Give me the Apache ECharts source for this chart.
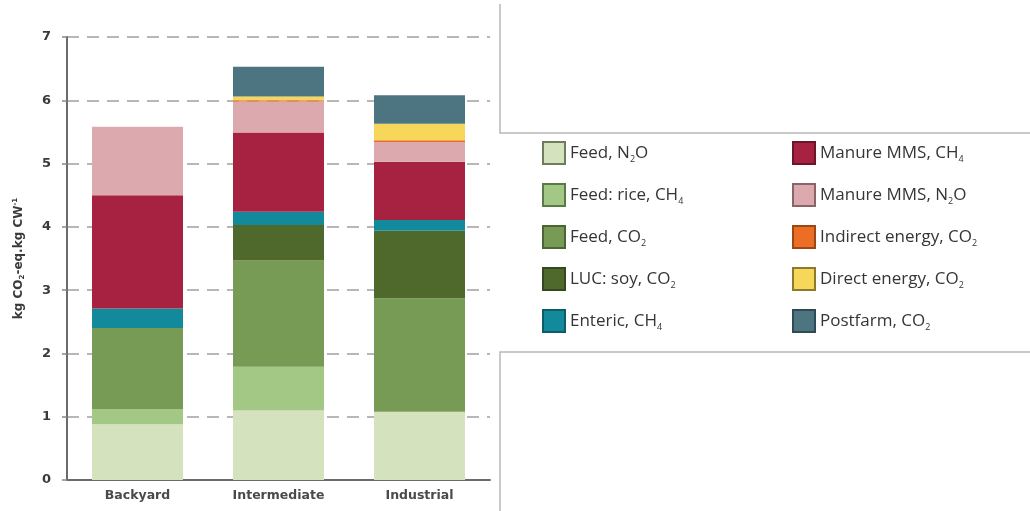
<!DOCTYPE html>
<html>
<head>
<meta charset="utf-8">
<script src="https://cdn.jsdelivr.net/npm/echarts@6/dist/echarts.min.js"></script>
<style>
  html, body { margin: 0; padding: 0; background: #fff; }
  #chart { width: 1030px; height: 511px; }
</style>
</head>
<body>
<div id="chart"></div>
<script>
// Production systems
const categories = ['Backyard', 'Intermediate', 'Industrial'];

// Emissions by source, kg CO2-eq per kg carcass weight
const feedN2O        = [0.88, 1.10, 1.08];
const feedRiceCH4    = [0.24, 0.69, 0.00];
const feedCO2        = [1.28, 1.68, 1.79];
const lucSoyCO2      = [0.00, 0.56, 1.07];
const entericCH4     = [0.31, 0.21, 0.17];
const manureCH4      = [1.79, 1.25, 0.92];
const manureN2O      = [1.08, 0.49, 0.31];
const indirectEnergy = [0.00, 0.02, 0.03];
const directEnergy   = [0.00, 0.06, 0.26];
const postfarmCO2    = [0.00, 0.47, 0.45];

const yTicks = [0, 1, 2, 3, 4, 5, 6, 7];

// Legend labels with rich-text subscripts
const sources = [
  { key: 'Feed, N{s|2}O',               data: feedN2O,        color: '#d4e2bd', border: '#6f7d5c' },
  { key: 'Feed: rice, CH{s|4}',         data: feedRiceCH4,    color: '#a3c784', border: '#5c7a45' },
  { key: 'Feed, CO{s|2}',               data: feedCO2,        color: '#779b54', border: '#4b6634' },
  { key: 'LUC: soy, CO{s|2}',           data: lucSoyCO2,      color: '#4f692d', border: '#36481f' },
  { key: 'Enteric, CH{s|4}',            data: entericCH4,     color: '#138a9b', border: '#0d5d69' },
  { key: 'Manure MMS, CH{s|4}',         data: manureCH4,      color: '#a72141', border: '#6d1529' },
  { key: 'Manure MMS, N{s|2}O',         data: manureN2O,      color: '#dcaaae', border: '#8a6466' },
  { key: 'Indirect energy, CO{s|2}',    data: indirectEnergy, color: '#ec6e24', border: '#9c4716' },
  { key: 'Direct energy, CO{s|2}',      data: directEnergy,   color: '#f6d75a', border: '#8f7a2c' },
  { key: 'Postfarm, CO{s|2}',           data: postfarmCO2,    color: '#4d7481', border: '#2f4a53' }
];

const chart = echarts.init(document.getElementById('chart'), null, { renderer: 'canvas' });

const series = sources.map(s => ({
  name: s.key,
  type: 'bar',
  stack: 'total',
  barWidth: 91,
  data: s.data,
  itemStyle: { color: s.color },
  emphasis: { disabled: true },
  z: 3
}));

const legendFont = 'Open Sans, Liberation Sans, sans-serif';
const legendText = {
  fontFamily: legendFont,
  fontSize: 17,
  lineHeight: 20,
  color: '#353535',
  rich: {
    s: { fontSize: 9, lineHeight: 12, padding: [12, 0, 0, 0], color: '#353535', fontFamily: legendFont }
  }
};

function legendFor(list, left) {
  return {
    orient: 'vertical',
    left: left,
    top: 141,
    padding: 0,
    itemWidth: 22,
    itemHeight: 22,
    itemGap: 18,
    icon: 'rect',
    selectedMode: false,
    textStyle: legendText,
    data: list.map(s => ({
      name: s.key,
      itemStyle: { color: s.color, borderColor: s.border, borderWidth: 2 }
    }))
  };
}

const axisFont = 'DejaVu Sans, Open Sans, sans-serif';

const option = {
  animation: false,
  backgroundColor: '#ffffff',
  grid: { left: 67, top: 37, width: 423, height: 443, containLabel: false },
  legend: [legendFor(sources.slice(0, 5), 542), legendFor(sources.slice(5), 792)],
  xAxis: {
    type: 'category',
    data: categories,
    axisTick: { show: false },
    axisLine: { lineStyle: { color: '#6b6b6b', width: 2 } },
    axisLabel: {
      margin: 9,
      fontFamily: axisFont,
      fontWeight: 'bold',
      fontSize: 12.5,
      color: '#4a4a4a'
    }
  },
  yAxis: {
    type: 'value',
    min: yTicks[0],
    max: yTicks[yTicks.length - 1],
    interval: 1,
    name: 'kg CO{s|2}-eq.kg CW{p|-1}',
    nameLocation: 'middle',
    nameGap: 41,
    nameRotate: 90,
    nameTextStyle: {
      fontFamily: axisFont,
      fontWeight: 'bold',
      fontSize: 12,
      color: '#3a3a3a',
      rich: {
        s: { fontSize: 7, fontWeight: 'bold', fontFamily: axisFont, padding: [8, 0, 0, 0], color: '#3a3a3a' },
        p: { fontSize: 7, fontWeight: 'bold', fontFamily: axisFont, padding: [0, 0, 6, 0], color: '#3a3a3a' }
      }
    },
    axisLine: { show: true, lineStyle: { color: '#6b6b6b', width: 2 } },
    axisTick: { show: true, inside: false, length: 5, lineStyle: { color: '#888', width: 1.5 } },
    axisLabel: {
      margin: 16,
      fontFamily: axisFont,
      fontWeight: 'bold',
      fontSize: 13,
      color: '#3a3a3a'
    },
    splitLine: {
      show: true,
      lineStyle: { color: '#a0a0a0', width: 1.5, type: [12, 8] }
    }
  },
  series: series,
  graphic: [
    // upper frame segment around the legend panel
    { type: 'polyline', silent: true, shape: { points: [[500, 4], [500, 133], [1030, 133]] },
      style: { stroke: '#b8b8b8', lineWidth: 1.5, fill: null } },
    // lower frame segment
    { type: 'polyline', silent: true, shape: { points: [[1030, 352], [500, 352], [500, 511]] },
      style: { stroke: '#b8b8b8', lineWidth: 1.5, fill: null } }
  ]
};

chart.setOption(option);
</script>
</body>
</html>
